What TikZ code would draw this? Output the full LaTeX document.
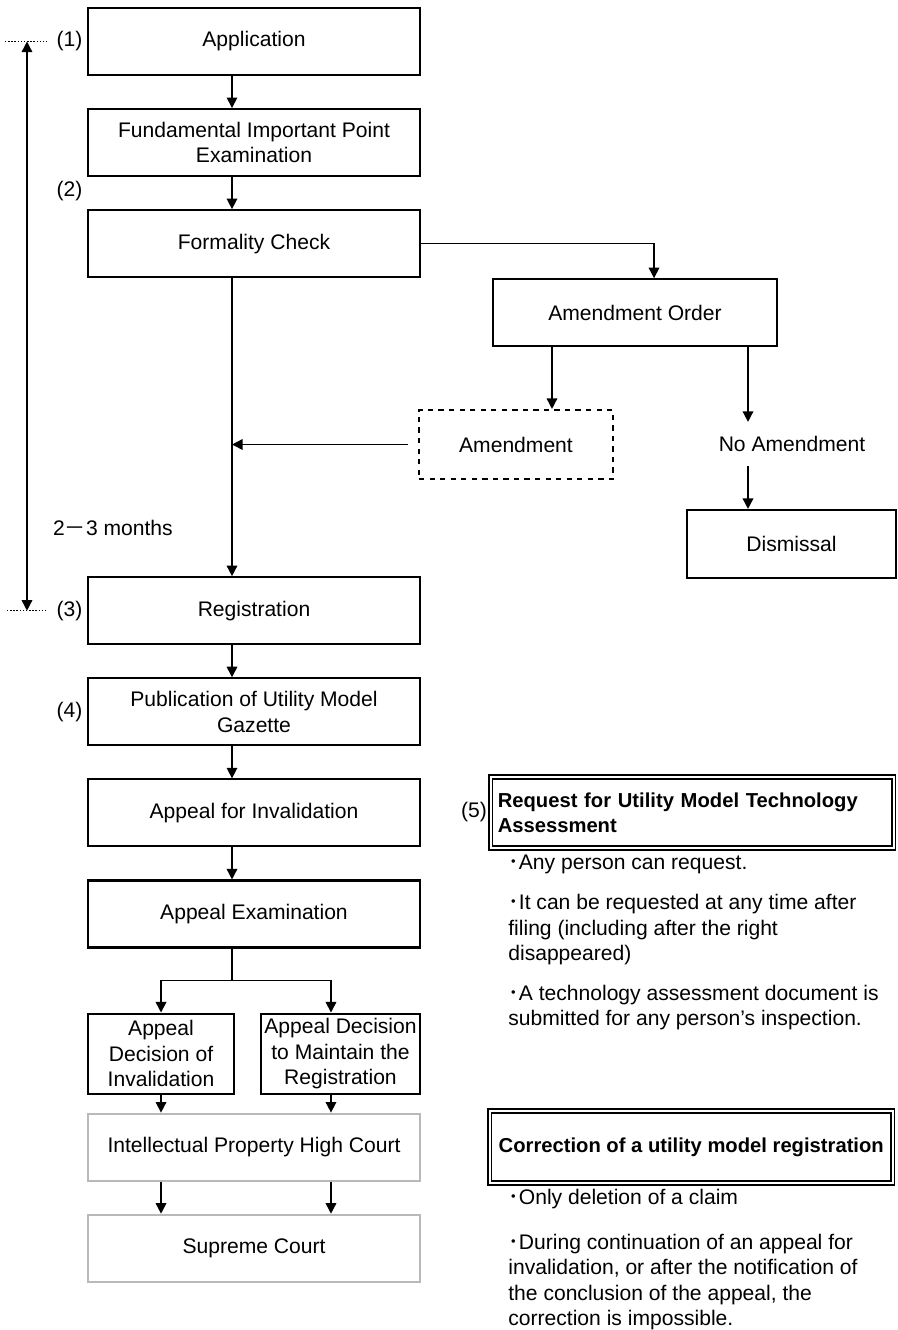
\documentclass[tikz,border=0pt]{standalone}
\usepackage{fontspec}
\setmainfont{Liberation Sans}
\newfontfamily\cjkfont{Noto Sans CJK JP}
\newcommand{\pt}{{\cjkfont ･}}
\usetikzlibrary{arrows.meta, positioning, calc}

\begin{document}
\begin{tikzpicture}[
    x=0.02cm, y=-0.02cm,
    node distance = 0.64cm,
    every node/.style = {font=\fontsize{12pt}{14.5pt}\selectfont},
    stage/.style = {
        rectangle, draw, line width=1.2pt,
        minimum width=6.64cm, minimum height=1.34cm,
        align=center, inner sep=1pt
    },
    court/.style = {stage, draw=gray!55},
    branch/.style = {stage, minimum width=2.92cm, minimum height=1.6cm},
    optional/.style = {stage, dashed, minimum width=3.88cm, minimum height=1.38cm},
    sidebox/.style = {stage, minimum width=4.18cm, minimum height=1.36cm},
    notebox/.style = {
        rectangle, draw, double, double distance=1.2pt, line width=0.9pt,
        minimum width=8.06cm, minimum height=1.42cm,
        inner xsep=0.14cm, align=left,
        font=\fontsize{11.5pt}{14pt}\selectfont\bfseries
    },
    arr/.style = {
        -{Triangle[length=6pt,width=6pt]},
        line width=0.9pt
    },
    tag/.style = {inner sep=1pt},
    note/.style = {anchor=west, align=left, inner sep=0pt}
]
\useasboundingbox (0,0) rectangle (898,1330);

%% Main vertical chain
\node[stage] (app) at (254,41.5) {Application};
\node[stage, below=of app]  (fip)  {Fundamental Important Point\\Examination};
\node[stage, below=of fip]  (form) {Formality Check};
\node[stage, below=5.96cm of form] (reg) {Registration};
\node[stage, below=of reg]  (pub)  {Publication of Utility Model\\Gazette};
\node[stage, below=of pub]  (inv)  {Appeal for Invalidation};
\node[stage, below=of inv]  (exam) {Appeal Examination};

%% Appeal outcomes and courts
\node[branch, below right=1.28cm and 0cm of exam.south west] (dinv)  {Appeal\\Decision of\\Invalidation};
\node[branch, minimum width=3.18cm, below left=1.28cm and 0cm of exam.south east] (dkeep) {Appeal Decision\\to Maintain the\\Registration};
\node[court, below right=0.36cm and 0cm of dinv.south west] (iphc) {Intellectual Property High Court};
\node[court, below=of iphc] (sup) {Supreme Court};

%% Amendment branch
\node[stage, minimum width=5.68cm, below right=0cm and 1.42cm of form.south east] (ordr) {Amendment Order};
\node[optional] (amd) at (516,444.5) {Amendment};
\node[inner ysep=0.28cm] (noamd) at (792,444) {No Amendment};
\node[sidebox] (dism) at (791.5,544) {Dismissal};

%% Side notes
\node[notebox, anchor=west, text width=7.78cm] (req) at (490,812.5) {Request for Utility Model Technology\\Assessment};
\node[note] (rq1) at (508,864) {\pt Any person can request.};
\node[note] (rq2) at (508,930) {\pt It can be requested at any time after\\filing (including after the right\\disappeared)};
\node[note] (rq3) at (508,1007.5) {\pt A technology assessment document is\\submitted for any person's inspection.};
\node[notebox, anchor=west, minimum height=1.44cm] (corr) at (489,1147) {Correction of a utility model registration};
\node[note] (co1) at (508,1199) {\pt Only deletion of a claim};
\node[note] (co2) at (508,1282) {\pt During continuation of an appeal for\\invalidation, or after the notification of\\the conclusion of the appeal, the\\correction is impossible.};

%% Step labels
\node[tag, left=0.05cm of app.west] (l1) {(1)};
\node[tag, above left=0.12cm and 0.05cm of form.north west] (l2) {(2)};
\node[tag, left=0.05cm of reg.west] (l3) {(3)};
\node[tag, left=0.05cm of pub.west] (l4) {(4)};
\node[tag, left=0.02cm of req.west] (l5) {(5)};
\node (months) at (113,528) {2{\cjkfont －}3 months};

%% Helper coordinates
\coordinate (spine) at ([xshift=-0.44cm]app.south);
\coordinate (ordin) at ([xshift=0.38cm]ordr.north);
\coordinate (amdx)  at ([xshift=0.72cm]amd.north);
\coordinate (nox)   at ([xshift=-0.88cm]noamd.north);
\coordinate (split) at ([yshift=-0.64cm]exam.south -| spine);
\coordinate (lx)    at (dinv.south);
\coordinate (rx)    at ([xshift=-0.19cm]dkeep.south);
\coordinate (tl)    at (27,0);
\coordinate (t1)    at (app.west -| tl);
\coordinate (t3)    at (reg.west -| tl);

%% Arrows - main chain
\draw[arr] (app.south -| spine)  -- (fip.north -| spine);
\draw[arr] (fip.south -| spine)  -- (form.north -| spine);
\draw[arr] (form.south -| spine) -- (reg.north -| spine);
\draw[arr] (reg.south -| spine)  -- (pub.north -| spine);
\draw[arr] (pub.south -| spine)  -- (inv.north -| spine);
\draw[arr] (inv.south -| spine)  -- (exam.north -| spine);

%% Arrows - amendment branch
\draw[arr] (form.east) -| (ordin);
\draw[arr] (ordr.south -| amdx) -- (amd.north -| amdx);
\draw[arr] (ordr.south -| nox) -- (noamd.north -| nox);
\draw[arr] (noamd.south -| nox) -- (dism.north -| nox);
\draw[arr, shorten <=0.2cm] (amd.west) -- (amd.west -| spine);

%% Arrows - appeal outcomes
\draw[line width=0.9pt] (exam.south -| spine) -- (split);
\draw[arr] (split) -| (dinv.north);
\draw[arr] (split) -| (rx |- dkeep.north);
\draw[arr] (lx) -- (lx |- iphc.north);
\draw[arr] (rx) -- (rx |- iphc.north);
\draw[arr] (iphc.south -| lx) -- (sup.north -| lx);
\draw[arr] (iphc.south -| rx) -- (sup.north -| rx);

%% Time span
\draw[{Triangle[length=6pt,width=6pt]}-{Triangle[length=6pt,width=6pt]}, line width=0.8pt] (t1) -- (t3);
\draw[densely dotted, line width=0.8pt] ([xshift=-0.44cm]t1) -- ([xshift=0.4cm]t1);
\draw[densely dotted, line width=0.8pt] ([xshift=-0.4cm]t3) -- ([xshift=0.4cm]t3);

\end{tikzpicture}
\end{document}
